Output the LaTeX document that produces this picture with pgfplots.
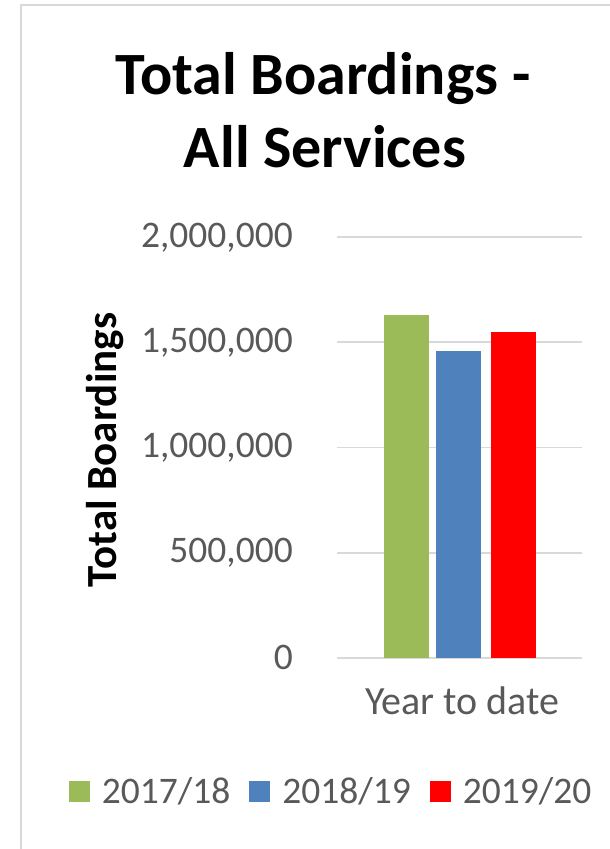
\documentclass[border=0pt]{standalone}
\usepackage{fontspec}
\setmainfont{Carlito}
\usepackage{pgfplots}
\pgfplotsset{compat=1.18}
\definecolor{cgreen}{HTML}{9BBB59}
\definecolor{cblue}{HTML}{4F81BD}
\definecolor{cred}{HTML}{FF0000}
\definecolor{tickgray}{HTML}{595959}
\definecolor{gridgray}{HTML}{D9D9D9}
\begin{document}
\begin{tikzpicture}
\path[use as bounding box] (0,0) rectangle (610pt,849pt);
\draw[gridgray, line width=1.5pt] (21pt,0pt) -- (21pt,844pt) -- (610pt,844pt);
\node[anchor=base, font=\fontsize{60}{72}\selectfont\bfseries, inner sep=0pt] at (323pt,754pt) {Total Boardings -};
\node[anchor=base, font=\fontsize{60}{72}\selectfont\bfseries, inner sep=0pt] at (325pt,681pt) {All Services};
\node[anchor=base, rotate=90, font=\fontsize{43}{50}\selectfont\bfseries, inner sep=0pt] at (116pt,399pt) {Total Boardings};
\begin{axis}[
  at={(337pt,191.3pt)}, anchor=south west,
  scale only axis, width=244.7pt, height=420.4pt,
  xmin=-1, xmax=1, ymin=0, ymax=2000000,
  ytick={0,500000,1000000,1500000,2000000},
  xtick={0}, xticklabels={Year to date},
  scaled y ticks=false,
  axis line style={draw=none},
  major tick length=0pt,
  ymajorgrids, grid style={gridgray, line width=1.8pt},
  /pgf/number format/.cd, fixed, 1000 sep={,}, assume math mode=true,
  /pgfplots/.cd,
  yticklabel style={font=\fontsize{37.5}{44}\selectfont, text=tickgray, inner sep=0pt, anchor=east, xshift=-44pt},
  xticklabel style={font=\fontsize{40}{48}\selectfont, text=tickgray, inner sep=0pt, anchor=base, yshift=-57pt, xshift=3pt},
  legend columns=3,
  legend style={at={(axis description cs:-0.028,-0.318)}, anchor=center, draw=none, fill=none, inner sep=0pt,
    font=\fontsize{37.5}{45}\selectfont, text=tickgray,
    nodes={inner sep=0pt},
    /tikz/every even column/.append style={column sep=19pt}},
]
\addplot[ybar, bar width=45pt, bar shift=-53pt, fill=cgreen, draw=none,
  legend image code/.code={\fill[cgreen] (0pt,-10.5pt) rectangle (21pt,10.5pt); \path (33pt,0pt);}]
  coordinates {(0,1632000)};
\addplot[ybar, bar width=45pt, bar shift=-1pt, fill=cblue, draw=none,
  legend image code/.code={\fill[cblue] (0pt,-10.5pt) rectangle (21pt,10.5pt); \path (33pt,0pt);}]
  coordinates {(0,1460000)};
\addplot[ybar, bar width=45pt, bar shift=54pt, fill=cred, draw=none,
  legend image code/.code={\fill[cred] (0pt,-10.5pt) rectangle (21pt,10.5pt); \path (33pt,0pt);}]
  coordinates {(0,1551000)};
\legend{2017/18,2018/19,2019/20}
\end{axis}
\end{tikzpicture}
\end{document}
